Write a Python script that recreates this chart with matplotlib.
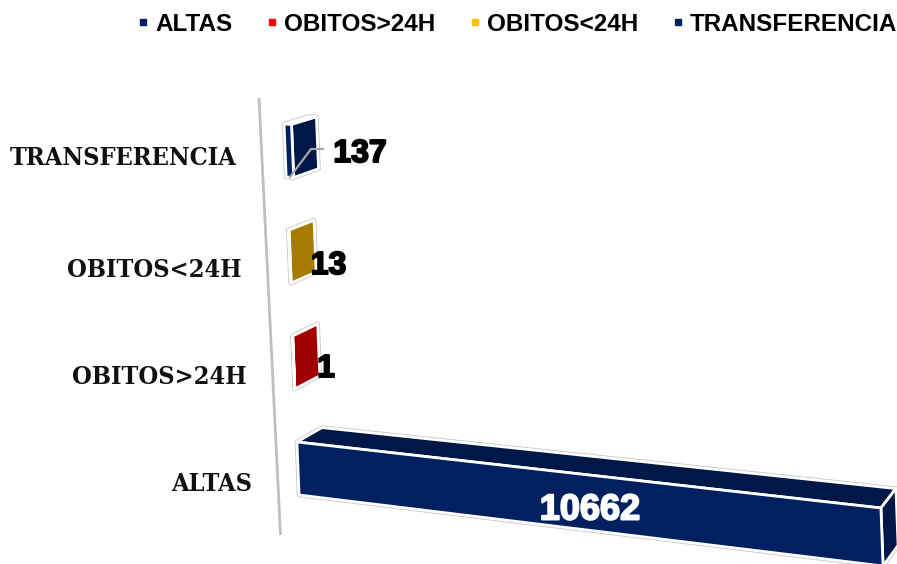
import matplotlib
matplotlib.use('Agg')
import matplotlib.pyplot as plt
import matplotlib.patheffects as pe
from matplotlib.lines import Line2D
from matplotlib.patches import Polygon

# datos
categorias = ['ALTAS', 'OBITOS>24H', 'OBITOS<24H', 'TRANSFERENCIA']
valores = [10662, 1, 13, 137]
colores_leyenda = ['#002060', '#ff0000', '#ffc000', '#002060']
colores_frente = ['#002060', '#c00000', '#bf9000', '#002060']
colores_lado = ['#001848', '#a00000', '#a67c00', '#001848']

VALOR_MAX = 10662
MEDIO_ALTO = 0.25  # mitad del grosor de la barra, en unidades de categoria


# perspectiva falsa: (valor, categoria, profundidad) -> pixel
def proyectar(valor, cat, z):
    u = valor / VALOR_MAX
    px = 298 - 4.3 * cat + 584 * u + z * (25 - 10 * u)
    py = 468.5 - 106 * cat + 68.5 * u - 10 * u * cat - z * (15 - 2.3 * cat + 5 * u)
    return px, py


def cara(valor_a, valor_b, cat_a, cat_b, z_a, z_b, tipo):
    if tipo == 'frente':
        esquinas = [(valor_a, cat_b, 0), (valor_b, cat_b, 0), (valor_b, cat_a, 0), (valor_a, cat_a, 0)]
    elif tipo == 'arriba':
        esquinas = [(valor_a, cat_b, z_a), (valor_a, cat_b, z_b), (valor_b, cat_b, z_b), (valor_b, cat_b, z_a)]
    else:
        esquinas = [(valor_b, cat_b, z_a), (valor_b, cat_b, z_b), (valor_b, cat_a, z_b), (valor_b, cat_a, z_a)]
    return [proyectar(*e) for e in esquinas]


fig = plt.figure(figsize=(8.97, 5.64), dpi=100)
ax = fig.add_axes([0, 0, 1, 1])
ax.set_xlim(0, 897)
ax.set_ylim(564, 0)
ax.axis('off')

# eje vertical
ax.plot([259, 280.5], [98, 535], color='#bfbfbf', lw=2, solid_capstyle='butt', zorder=1)

# barras
for i, v in enumerate(valores):
    abajo, arriba = i - MEDIO_ALTO, i + MEDIO_ALTO
    caras = [('arriba', colores_lado[i]), ('lado', colores_lado[i]), ('frente', colores_frente[i])]
    for tipo, color in caras:
        pts = cara(0, v, abajo, arriba, 0, 1, tipo)
        ax.add_patch(Polygon(pts, closed=True, facecolor='none', edgecolor='#c8c8c8', lw=3.2, joinstyle='round', zorder=2))
    for tipo, color in caras:
        pts = cara(0, v, abajo, arriba, 0, 1, tipo)
        ax.add_patch(Polygon(pts, closed=True, facecolor=color, edgecolor='white', lw=2.0, joinstyle='round', zorder=3))

# linea guia de la etiqueta 137
ax.plot([290, 311, 323], [177, 149, 149], color='#a6a6a6', lw=1.6, zorder=4)

# etiquetas de categoria
x_cat = [252, 247, 242, 237]
y_cat = [484, 377, 270, 158]
for nombre, x, y in zip(categorias, x_cat, y_cat):
    ax.text(x, y, nombre, ha='right', va='center', family='DejaVu Serif', stretch='condensed',
            fontweight='bold', fontsize=18.2, color='#111111')

# etiquetas de valor
x_val = [590, 326, 328.5, 360]
y_val = [510, 369, 266, 154]
colores_val = ['white', 'black', 'black', 'black']
tam_val = [26, 23, 23, 23]
for v, x, y, c, t in zip(valores, x_val, y_val, colores_val, tam_val):
    ax.text(x, y, str(v), ha='center', va='center', family='Liberation Sans', fontweight='bold',
            fontsize=t, color=c, zorder=5,
            path_effects=[pe.withStroke(linewidth=1.4, foreground=c)])

# leyenda
handles = [Line2D([], [], linestyle='none', marker='s', markersize=5, color=c) for c in colores_leyenda]
ax.legend(handles, categorias, loc='upper right', bbox_to_anchor=(1.0056, 0.986), ncol=4, frameon=False,
          prop={'family': 'Liberation Sans', 'weight': 'bold', 'size': 17.5},
          handlelength=0.4, handletextpad=0.3, columnspacing=1.42, borderaxespad=0.0, borderpad=0.2)

plt.savefig('out.png', dpi=100, facecolor='white')
plt.close()
